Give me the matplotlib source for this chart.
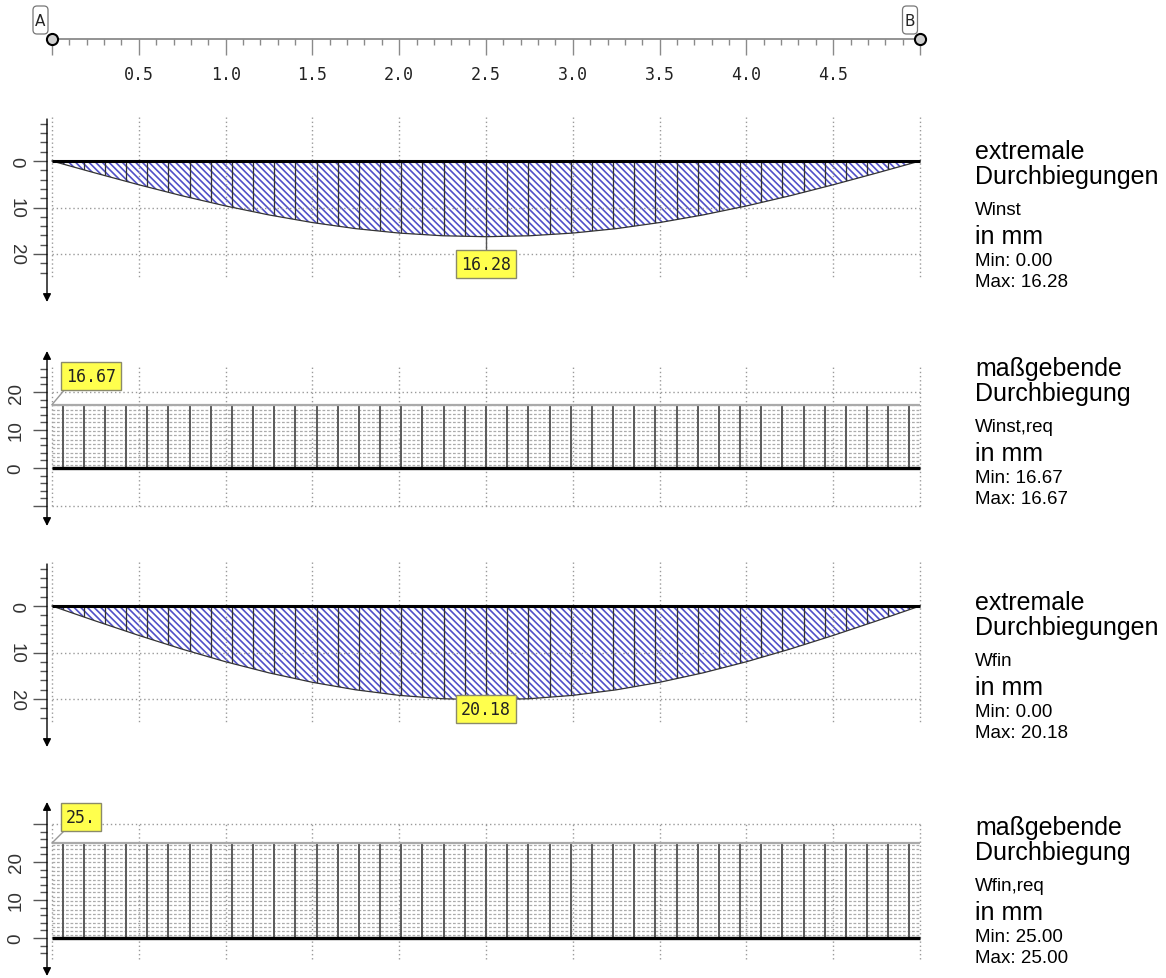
import numpy as np
import matplotlib
matplotlib.use("Agg")
import matplotlib.pyplot as plt
from matplotlib.patches import Polygon, Rectangle, FancyBboxPatch

plt.rcParams["hatch.linewidth"] = 1.2

# ---------------- data ----------------
beam_length = 5.0
x_pos = [0.0, 0.25, 0.5, 0.75, 1.0, 1.25, 1.5, 1.75, 2.0, 2.25, 2.5,
         2.75, 3.0, 3.25, 3.5, 3.75, 4.0, 4.25, 4.5, 4.75, 5.0]
w_inst = [0.0, 2.59, 5.11, 7.49, 9.67, 11.60, 13.24, 14.55, 15.50, 16.08, 16.28,
          16.08, 15.50, 14.55, 13.24, 11.60, 9.67, 7.49, 5.11, 2.59, 0.0]
w_inst_req = 16.67
w_fin = [0.0, 3.21, 6.33, 9.28, 11.99, 14.38, 16.41, 18.03, 19.22, 19.94, 20.18,
         19.94, 19.22, 18.03, 16.41, 14.38, 11.99, 9.28, 6.33, 3.21, 0.0]
w_fin_req = 25.0

ruler_ticks = [0.5, 1.0, 1.5, 2.0, 2.5, 3.0, 3.5, 4.0, 4.5]
ruler_labels = ["0.5", "1.0", "1.5", "2.0", "2.5", "3.0", "3.5", "4.0", "4.5"]
end_labels = ["A", "B"]

axis_labels = ["0", "10", "20"]
value_labels = ["16.28", "16.67", "20.18", "25."]
title1 = ["extremale", "maßgebende", "extremale", "maßgebende"]
title2 = ["Durchbiegungen", "Durchbiegung", "Durchbiegungen", "Durchbiegung"]
symbols = ["Winst", "Winst,req", "Wfin", "Wfin,req"]
unit_text = "in mm"
min_texts = ["Min: 0.00", "Min: 16.67", "Min: 0.00", "Min: 25.00"]
max_texts = ["Max: 16.28", "Max: 16.67", "Max: 20.18", "Max: 25.00"]

# ---------------- layout helpers ----------------
W, H = 1166, 979
fig = plt.figure(figsize=(W / 100, H / 100), dpi=100)
fig.patch.set_facecolor("white")

X0, X1 = 52.0, 920.0


def px2x(px):
    return (px - X0) * beam_length / (X1 - X0)


MONO = "DejaVu Sans Mono"
SANS = "Liberation Sans"
GRID = dict(colors="#9a9a9a", linestyles=(0, (1, 2)), linewidths=1.0)
grid_x = np.arange(0, beam_length + 0.01, 0.5)
n_div = 41
div_x = (np.arange(n_div) + 0.5) * beam_length / n_div
AX_X = px2x(47)


def make_axes(top, bot, zero, scale, down):
    ax = fig.add_axes([0, 1 - bot / H, 940 / W, (bot - top) / H])

    def vy(px):
        return (px - zero) / scale if down else (zero - px) / scale

    ax.set_xlim(px2x(0), px2x(940))
    ax.set_ylim(vy(bot), vy(top))
    ax.axis("off")
    return ax, vy


def draw_axis(ax, vy, top_px, tip_px, tick_lo, tick_hi, down, two_arrows):
    style = "<|-|>" if two_arrows else "-|>"
    ax.annotate("", xy=(AX_X, vy(tip_px)), xytext=(AX_X, vy(top_px)),
                arrowprops=dict(arrowstyle=style, color="black", lw=1.0,
                                mutation_scale=12, shrinkA=0, shrinkB=0))
    for t in range(tick_lo, tick_hi + 1, 2):
        left = px2x(33) if t % 10 == 0 else px2x(40)
        ax.plot([left, AX_X], [t, t], color="#555555", lw=1.0, solid_capstyle="butt")
    rot = -90 if down else 90
    for lab in axis_labels:
        ax.text(px2x(16), float(lab), lab, rotation=rot, ha="center", va="center",
                rotation_mode="anchor", family=SANS, fontsize=13.5, color="#333333")


def value_box(ax, x, y, text):
    ax.text(x, y, text, ha="center", va="center", family=MONO, fontsize=12,
            color="#222222",
            bbox=dict(boxstyle="square,pad=0.28", fc="#ffff4d", ec="#8a8a6a", lw=1.0))


def curve_panel(top, bot, zero, values, label):
    scale = 4.65
    ax, vy = make_axes(top, bot, zero, scale, True)
    ax.vlines(grid_x, vy(118 - 162 + zero), vy(280 - 162 + zero), **GRID)
    ax.hlines([10, 20], 0, beam_length, **GRID)
    verts = list(zip(x_pos, values)) + [(beam_length, 0.0), (0.0, 0.0)]
    poly = Polygon(verts, closed=True, facecolor="white", edgecolor="#5050c8",
                   hatch="\\\\\\\\\\", lw=0)
    ax.add_patch(poly)
    vl = ax.vlines(div_x, 0, max(values) + 5, colors="#333333", linewidths=0.9)
    vl.set_clip_path(poly)
    ax.plot(x_pos, values, color="#333333", lw=0.9)
    ax.plot([0, beam_length], [0, 0], color="black", lw=2.2, solid_capstyle="butt")
    draw_axis(ax, vy, 120 - 162 + zero, 303 - 162 + zero, -8, 24, True, False)
    i = int(np.argmax(values))
    ax.plot([x_pos[i], x_pos[i]], [values[i], vy(250 - 162 + zero)], color="#555555", lw=1.0)
    value_box(ax, x_pos[i], vy(265 - 162 + zero), label)
    return ax


def rect_panel(top, bot, zero, req, label, grid_top_px, grid_bot_px, hgrid,
               tick_lo, tick_hi, arrow_top, arrow_bot, box_center):
    scale = 3.8
    ax, vy = make_axes(top, bot, zero, scale, False)
    ax.vlines(grid_x, vy(grid_bot_px), vy(grid_top_px), **GRID)
    ax.hlines(hgrid, 0, beam_length, **GRID)
    ax.add_patch(Rectangle((0, 0), beam_length, req, facecolor="white", lw=0))
    spacing = 4.3 / scale
    rows = np.arange(spacing * 0.6, req, spacing)
    ax.hlines(rows, 0, beam_length, colors="#ababab", linewidths=0.9,
              linestyles=(0, (2.2, 1.4)))
    ax.vlines(div_x, 0, req, colors="#5a5a5a", linewidths=1.4)
    ax.plot([0, beam_length], [req, req], color="#aaaaaa", lw=1.6, solid_capstyle="butt")
    ax.plot([0, beam_length], [0, 0], color="black", lw=2.4, solid_capstyle="butt")
    draw_axis(ax, vy, arrow_top, arrow_bot, tick_lo, tick_hi, False, True)
    bx, by = box_center
    ax.plot([0, px2x(66)], [req, vy(by + 12)], color="#999999", lw=1.0)
    value_box(ax, px2x(bx), vy(by), label)
    return ax


# ---------------- ruler ----------------
rax = fig.add_axes([0, 1 - 100 / H, 940 / W, 100 / H])
rax.set_xlim(px2x(0), px2x(940))
rax.set_ylim(100, 0)
rax.axis("off")
RY = 40
rax.plot([0, beam_length], [RY, RY], color="#8a8a8a", lw=1.3)
minor = [t for t in np.round(np.arange(0.1, beam_length, 0.1), 2) if abs(t * 2 - round(t * 2)) > 1e-6]
rax.vlines(minor, RY, RY + 6, colors="#8a8a8a", linewidths=1.0)
rax.vlines([0.0] + ruler_ticks + [beam_length], RY, RY + 16, colors="#8a8a8a", linewidths=1.0)
rax.plot([0, beam_length], [RY, RY], "o", ms=8, mfc="#cfcfcf", mec="black", mew=1.5)
for t, lab in zip(ruler_ticks, ruler_labels):
    rax.text(t, 75, lab, ha="center", va="center", family=MONO, fontsize=12, color="#222222")
for xpx, lab in zip([40.5, 910], end_labels):
    box = FancyBboxPatch(((xpx - 7.5) / 100, (H - 35) / 100), 0.15, 0.28,
                         boxstyle="round,pad=0,rounding_size=0.04",
                         transform=fig.dpi_scale_trans, fc="white", ec="#777777", lw=0.9)
    fig.add_artist(box)
    fig.text(xpx / W, 1 - 21 / H, lab, ha="center", va="center", family="DejaVu Sans",
             fontsize=11, color="#222222")

# ---------------- panels ----------------
curve_panel(100, 312, 162, w_inst, value_labels[0])
rect_panel(340, 535, 469, w_inst_req, value_labels[1], 367, 507, [20, -10],
           -10, 26, 352, 527, (91, 377))
curve_panel(545, 757, 607, w_fin, value_labels[2])
rect_panel(790, 979, 939, w_fin_req, value_labels[3], 823, 960, [30],
           -4, 30, 803, 977, (81, 818))

# ---------------- right-hand texts ----------------
max_base = [287, 504, 738, 963]
offsets = [-128, -103, -72, -43, -21, 0]
for k in range(4):
    texts = [title1[k], title2[k], symbols[k], unit_text, min_texts[k], max_texts[k]]
    sizes = [18, 18, 13.5, 18, 13.5, 13.5]
    for txt, off, fs in zip(texts, offsets, sizes):
        fig.text(975 / W, 1 - (max_base[k] + off) / H, txt, ha="left", va="baseline",
                 family=SANS, fontsize=fs, color="black")

fig.savefig("out.png", dpi=100, facecolor="white")
